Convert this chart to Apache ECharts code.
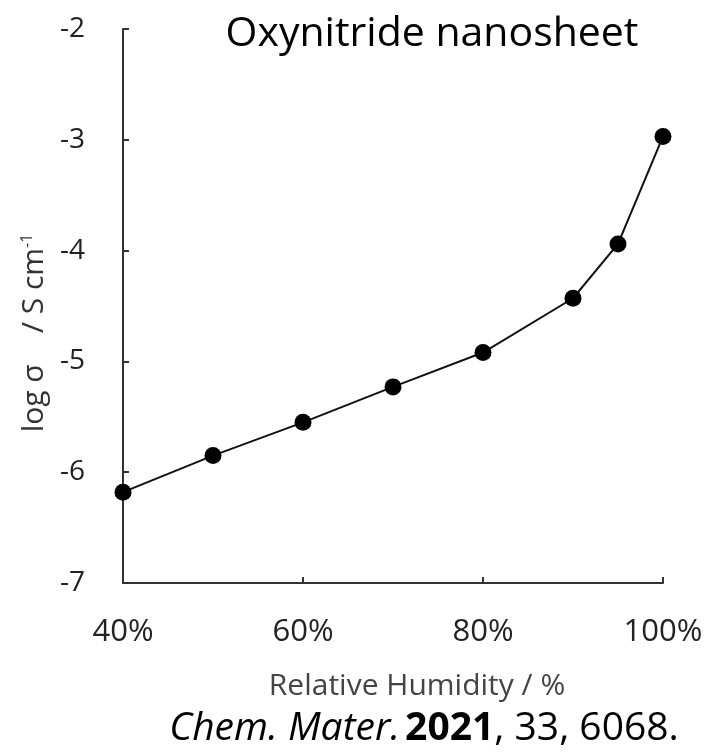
<!DOCTYPE html>
<html>
<head>
<meta charset="utf-8">
<script src="https://cdn.jsdelivr.net/npm/echarts@6/dist/echarts.min.js"></script>
<style>
  html, body { margin: 0; padding: 0; background: #fff; }
  #chart { width: 710px; height: 754px; }
</style>
</head>
<body>
<div id="chart"></div>
<script>
// relative humidity (%) and log conductivity
const humidity = [40, 50, 60, 70, 80, 90, 95, 100];
const logSigma = [-6.18, -5.85, -5.55, -5.23, -4.92, -4.43, -3.94, -2.97];
const xTicks = [40, 60, 80, 100];
const yTicks = [-7, -6, -5, -4, -3, -2];

const font = '"Open Sans", "Liberation Sans", sans-serif';
const chart = echarts.init(document.getElementById('chart'));

const option = {
  backgroundColor: '#fff',
  animation: false,
  title: [
    {
      text: 'Oxynitride nanosheet',
      left: 427, top: 9, textAlign: 'center',
      textStyle: { fontFamily: font, fontSize: 41, fontWeight: 'normal', color: '#000' }
    },
    {
      text: '{i|Chem. Mater.} {b|2021}{n|, 33, 6068.}',
      left: 419, top: 704, textAlign: 'center',
      textStyle: {
        rich: {
          i: { fontFamily: font, fontSize: 39, fontStyle: 'italic', fontWeight: 'normal', color: '#000' },
          b: { fontFamily: font, fontSize: 39, fontWeight: 'bold', color: '#000' },
          n: { fontFamily: font, fontSize: 39, fontWeight: 'normal', color: '#000' }
        }
      }
    }
  ],
  grid: { left: 123, right: 47, top: 29, bottom: 171 },
  xAxis: {
    type: 'value',
    min: 40, max: 100, interval: 20,
    name: 'Relative Humidity / %',
    nameLocation: 'middle',
    nameGap: 88,
    nameTextStyle: { fontFamily: font, fontSize: 30, color: '#444', padding: [0, 0, 0, 48] },
    axisLine: { lineStyle: { color: '#333', width: 2 } },
    axisTick: { inside: true, length: 6, lineStyle: { color: '#333', width: 2 } },
    axisLabel: {
      margin: 34, fontFamily: font, fontSize: 31, color: '#222',
      formatter: v => xTicks.includes(v) ? v + '%' : ''
    },
    splitLine: { show: false }
  },
  yAxis: {
    type: 'value',
    min: -7, max: -2, interval: 1,
    name: '{n|log σ    / S cm}{s|-1}',
    nameLocation: 'middle',
    nameGap: 70,
    nameRotate: 90,
    nameTextStyle: {
      padding: [0, 54, 0, 0],
      rich: {
        n: { fontFamily: font, fontSize: 30, color: '#333' },
        s: { fontFamily: font, fontSize: 16, color: '#333', padding: [0, 0, 14, 0] }
      }
    },
    axisLine: { show: true, lineStyle: { color: '#333', width: 2 } },
    axisTick: { show: true, inside: true, length: 6, lineStyle: { color: '#333', width: 2 } },
    axisLabel: {
      margin: 38, fontFamily: font, fontSize: 28, color: '#222',
      formatter: v => yTicks.includes(v) ? String(v) : ''
    },
    splitLine: { show: false }
  },
  series: [{
    type: 'line',
    data: humidity.map((h, i) => [h, logSigma[i]]),
    symbol: 'circle',
    symbolSize: 17,
    itemStyle: { color: '#000' },
    lineStyle: { color: '#111', width: 2 },
    clip: false,
    z: 5
  }]
};

chart.setOption(option);
window.onresize = function () { chart.resize(); };
</script>
</body>
</html>
